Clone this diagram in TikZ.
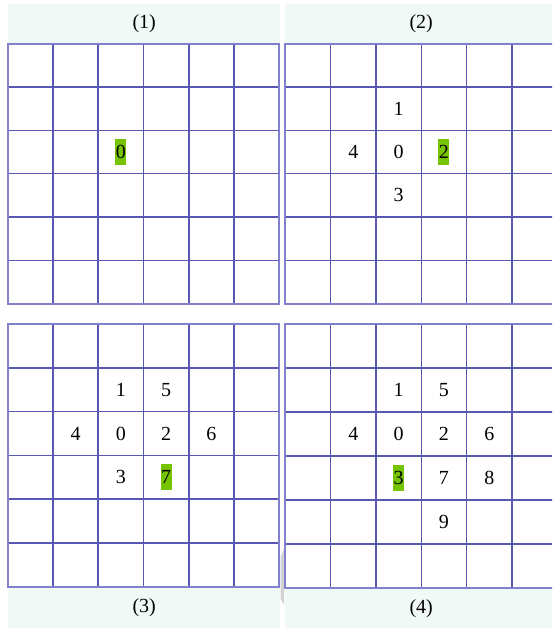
\documentclass[tikz,border=0pt]{standalone}
\usepackage{fontspec}
\setmainfont{Liberation Serif}
\usetikzlibrary{positioning}
\definecolor{gridblue}{RGB}{88,88,178}
\definecolor{frameblue}{RGB}{130,130,204}
\definecolor{bandmint}{RGB}{241,249,247}
\definecolor{visitgreen}{RGB}{118,196,0}
\definecolor{shadegray}{RGB}{210,210,210}

\begin{document}
\begin{tikzpicture}[x=1pt, y=-1pt,
  every node/.style={font=\fontsize{20}{24}\selectfont},
  gridline/.style={draw=gridblue, line width=1.5pt},
  frame/.style={draw=frameblue, line width=1.8pt},
  band/.style={fill=bandmint, inner sep=0pt, minimum width=272pt, minimum height=39pt, anchor=north west},
  num/.style={inner sep=0pt, minimum width=11pt, minimum height=26pt},
  visit/.style={num, fill=visitgreen}
]
  \useasboundingbox (0,0) rectangle (552,628);
  \clip (0,0) rectangle (552,628);

  % captions
  \node[band] (cap1) at (8,4) {(1)};
  \node[band] (cap2) at (285,4) {(2)};
  \node[band, minimum height=41pt] (cap3) at (8,587) {(3)};
  \node[band, minimum height=40pt] (cap4) at (285,588) {(4)};
  \fill[shadegray] (280.5,557) -- (284,549) -- (284,605) -- (280.5,599) -- cycle;

  % (1)
  \begin{scope}[shift={(7.7,43.7)}, x=45.27pt, y=-43.33pt]
    \foreach \i in {1,...,5} {
      \draw[gridline] (\i,0) -- (\i,6);
      \draw[gridline] (0,\i) -- (6,\i);
    }
    \draw[frame] (0,0) rectangle (6,6);
    \node[visit] (a0) at (2.5,2.5) {0};
  \end{scope}

  % (2)
  \begin{scope}[shift={(285.3,43.7)}, x=45.33pt, y=-43.33pt]
    \foreach \i in {1,...,5} {
      \draw[gridline] (\i,0) -- (\i,6);
      \draw[gridline] (0,\i) -- (6,\i);
    }
    \draw[frame] (0,0) rectangle (6,6);
    \node[num] (b1) at (2.5,1.5) {1};
    \node[num] (b4) at (1.5,2.5) {4};
    \node[num] (b0) at (2.5,2.5) {0};
    \node[visit] (b2) at (3.5,2.5) {2};
    \node[num] (b3) at (2.5,3.5) {3};
  \end{scope}

  % (3)
  \begin{scope}[shift={(7.7,324)}, x=45.27pt, y=-43.8pt]
    \foreach \i in {1,...,5} {
      \draw[gridline] (\i,0) -- (\i,6);
      \draw[gridline] (0,\i) -- (6,\i);
    }
    \draw[frame] (0,0) rectangle (6,6);
    \node[num] (c1) at (2.5,1.5) {1};
    \node[num] (c5) at (3.5,1.5) {5};
    \node[num] (c4) at (1.5,2.5) {4};
    \node[num] (c0) at (2.5,2.5) {0};
    \node[num] (c2) at (3.5,2.5) {2};
    \node[num] (c6) at (4.5,2.5) {6};
    \node[num] (c3) at (2.5,3.5) {3};
    \node[visit] (c7) at (3.5,3.5) {7};
  \end{scope}

  % (4)
  \begin{scope}[shift={(285.3,324)}, x=45.33pt, y=-44pt]
    \foreach \i in {1,...,5} {
      \draw[gridline] (\i,0) -- (\i,6);
      \draw[gridline] (0,\i) -- (6,\i);
    }
    \draw[frame] (0,0) rectangle (6,6);
    \node[num] (d1) at (2.5,1.5) {1};
    \node[num] (d5) at (3.5,1.5) {5};
    \node[num] (d4) at (1.5,2.5) {4};
    \node[num] (d0) at (2.5,2.5) {0};
    \node[num] (d2) at (3.5,2.5) {2};
    \node[num] (d6) at (4.5,2.5) {6};
    \node[visit] (d3) at (2.5,3.5) {3};
    \node[num] (d7) at (3.5,3.5) {7};
    \node[num] (d8) at (4.5,3.5) {8};
    \node[num] (d9) at (3.5,4.5) {9};
  \end{scope}
\end{tikzpicture}
\end{document}
